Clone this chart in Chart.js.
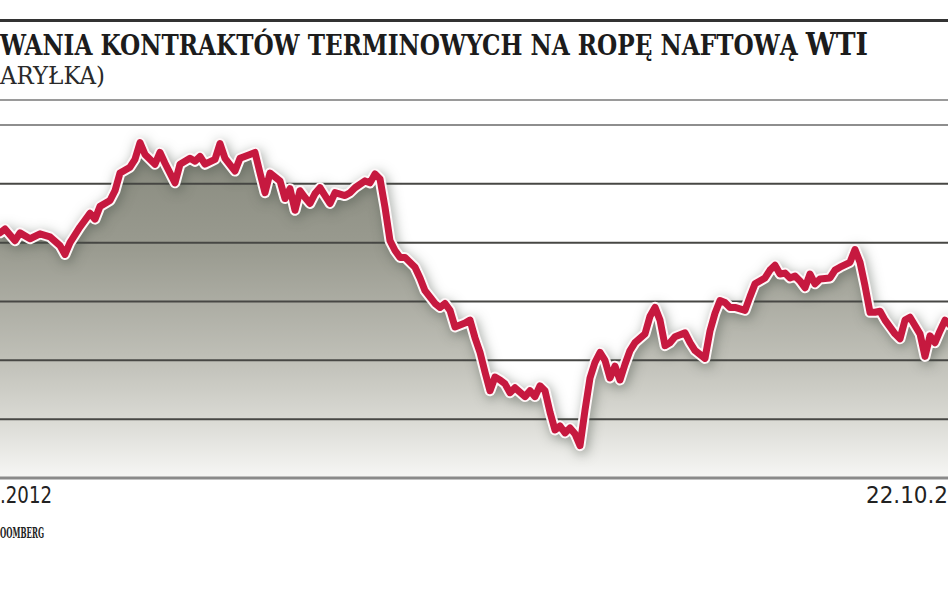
<!DOCTYPE html>
<html><head><meta charset="utf-8">
<script src="https://cdn.jsdelivr.net/npm/chart.js@4/dist/chart.umd.min.js"></script>
<style>
html,body{margin:0;padding:0;background:#fff;width:948px;height:593px;overflow:hidden;position:relative}
.t{position:absolute;white-space:nowrap;line-height:1;color:#1c1c1c}
#rule{position:absolute;left:0;top:19px;width:948px;height:3px;background:#333}
#rule2{position:absolute;left:0;top:99px;width:948px;height:2px;background:#9a9a9a}
#wrap{position:absolute;left:0;top:115px;width:948px;height:366px}
#title{font-family:"DejaVu Serif Condensed","DejaVu Serif",serif;font-weight:bold;font-size:27px;top:29px;left:0}
#title span{font-size:31px}
#sub{font-family:"DejaVu Serif Condensed","DejaVu Serif",serif;font-size:25px;top:63px;left:0;color:#2a2a2a}
.xl{font-family:"DejaVu Sans Condensed","DejaVu Sans",sans-serif;font-size:23px;top:484px;color:#222}
#src{font-family:"DejaVu Serif Condensed","DejaVu Serif",serif;font-weight:bold;font-size:14px;top:526px;left:0;color:#222}
</style></head><body>
<div id="rule"></div>
<div class="t" id="title">WANIA KONTRAKTÓW TERMINOWYCH NA ROPĘ NAFTOWĄ <span>WTI</span></div>
<div class="t" id="sub">ARYŁKA)</div>
<div id="rule2"></div>
<div id="wrap"><canvas id="c" width="948" height="366"></canvas></div>
<div class="t xl" id="xl0"></div>
<div class="t xl" id="xl1"></div>
<div class="t" id="src">OOMBERG</div>
<script>
// trading-day index (position along the time axis)
const days = [0,1,3,4,6,8,10,12,13,14,16,18,19,20,22,23,24,26,27,28,29,31,32,33,35,36,38,39,40,41,43,44,45,47,48,50,51,52,53,54,56,57,58,59,60,61,62,63,64,65,66,67,69,70,71,73,74,75,76,77,78,79,80,81,83,84,85,87,88,89,90,91,93,94,95,96,97,98,99,100,101,102,103,105,106,107,108,109,110,111,112,113,114,115,116,117,118,119,120,121,122,123,124,125,126,127,129,130,131,132,133,134,135,137,138,139,141,142,143,144,145,146,147,149,150,151,153,154,155,156,157,158,159,160,161,162,163,164,166,167,168,170,171,172,173,174,175,176,177,179,180,181,182,184,185,186,187,188,189,190];
// WTI futures price, USD per barrel
const prices = [100.0,100.4,99.2,100.0,99.4,99.9,99.6,98.7,97.8,99.0,100.6,102.0,101.4,102.7,103.3,104.3,106.1,106.7,107.5,109.2,108.0,107.0,108.2,107.1,105.1,107.0,107.6,107.3,107.8,107.0,107.5,109.1,107.6,106.3,107.6,108.0,108.2,106.1,104.1,106.1,105.3,103.5,104.5,102.3,104.3,103.6,103.0,104.0,104.6,103.8,103.0,104.1,103.8,104.1,104.6,105.3,105.1,106.0,105.5,102.6,99.2,98.2,97.5,97.5,96.5,95.4,94.1,92.8,92.4,92.8,92.1,90.4,90.8,91.1,89.3,87.8,85.8,83.9,85.3,85.0,84.6,83.7,84.2,83.3,83.9,83.3,84.4,83.9,81.7,79.9,80.3,79.6,80.1,79.5,78.3,81.9,85.2,86.8,87.8,87.0,85.2,86.4,85.0,86.6,88.0,88.8,89.7,91.5,92.4,91.1,88.5,88.8,89.4,89.8,88.8,88.0,87.2,90.0,91.8,93.1,92.9,92.4,92.4,92.1,93.5,94.8,95.4,96.2,96.7,95.8,95.9,95.4,95.6,95.1,94.4,95.8,94.8,95.3,95.4,96.2,96.5,97.0,98.3,97.0,94.6,91.9,91.9,92.0,91.1,89.7,89.2,91.1,91.4,89.7,87.4,89.5,88.8,90.0,91.1,90.6];
const yTicks = [75, 81, 87, 93, 99, 105, 111];
const xTickLabels = ['.2012', '22.10.2'];
const xRange = [0, 189.6];

document.getElementById('xl0').textContent = xTickLabels[0];
document.getElementById('xl1').textContent = xTickLabels[1];

function fit(id, left, width) {
  const el = document.getElementById(id);
  const w = el.getBoundingClientRect().width;
  el.style.left = left + 'px';
  el.style.transformOrigin = 'left top';
  el.style.transform = 'scaleX(' + (width / w) + ')';
}
fit('title', 0, 868);
fit('sub', 0, 105);
fit('xl0', 0, 52);
fit('xl1', 866, 82);
fit('src', 0, 44);

const points = days.map((d, i) => ({x: d, y: prices[i]}));

function fillGradient(ctx) {
  const ca = ctx.chart.chartArea;
  if (!ca) return '#aaa';
  const g = ctx.chart.ctx.createLinearGradient(0, ca.top, 0, ca.bottom);
  g.addColorStop(0, 'rgb(132,134,122)');
  g.addColorStop(0.354, 'rgb(154,155,144)');
  g.addColorStop(0.666, 'rgb(192,192,184)');
  g.addColorStop(0.836, 'rgb(218,218,212)');
  g.addColorStop(1, 'rgb(247,247,245)');
  return g;
}

const gridOverFill = {
  id: 'gridOverFill',
  beforeDatasetsDraw(chart) {
    const ctx = chart.ctx, ca = chart.chartArea, ys = chart.scales.y;
    ctx.save();
    yTicks.forEach((v) => {
      const y = ys.getPixelForValue(v);
      const isBottom = v === yTicks[0], isTop = v === yTicks[yTicks.length - 1];
      ctx.strokeStyle = isBottom ? '#8a8a8a' : (isTop ? '#8e8e8e' : '#474744');
      ctx.lineWidth = isBottom ? 3 : 2;
      ctx.beginPath();
      ctx.moveTo(ca.left, y);
      ctx.lineTo(ca.right, y);
      ctx.stroke();
    });
    ctx.restore();
  },
  beforeDatasetDraw(chart, args) {
    if (args.index === 1) {
      const ctx = chart.ctx;
      ctx.save();
      ctx.shadowColor = 'rgba(70,80,70,0.5)';
      ctx.shadowBlur = 12;
      ctx.shadowOffsetX = 2;
      ctx.shadowOffsetY = 3;
    }
  },
  afterDatasetDraw(chart, args) {
    if (args.index === 1) chart.ctx.restore();
  }
};

new Chart(document.getElementById('c'), {
  type: 'line',
  data: {
    datasets: [
      {data: points, borderWidth: 0, pointRadius: 0, fill: 'start', backgroundColor: fillGradient, order: 3},
      {data: points, borderColor: '#fdf7f8', borderWidth: 11, pointRadius: 0, fill: false, borderJoinStyle: 'round', borderCapStyle: 'round', order: 2},
      {data: points, borderColor: '#c6193f', borderWidth: 7, pointRadius: 0, fill: false, borderJoinStyle: 'round', borderCapStyle: 'round', order: 1}
    ]
  },
  options: {
    responsive: false,
    animation: false,
    layout: {padding: {top: 10, bottom: 3, left: 0, right: 0}},
    plugins: {legend: {display: false}, tooltip: {enabled: false}, filler: {drawTime: 'beforeDatasetsDraw'}},
    scales: {
      x: {type: 'linear', min: xRange[0], max: xRange[1], display: false},
      y: {
        min: yTicks[0], max: yTicks[yTicks.length - 1],
        afterBuildTicks: (s) => { s.ticks = yTicks.map(v => ({value: v})); },
        ticks: {display: false},
        grid: {display: false},
        border: {display: false},
        afterFit: (s) => { s.width = 0; }
      }
    }
  },
  plugins: [gridOverFill]
});
</script>
</body></html>
